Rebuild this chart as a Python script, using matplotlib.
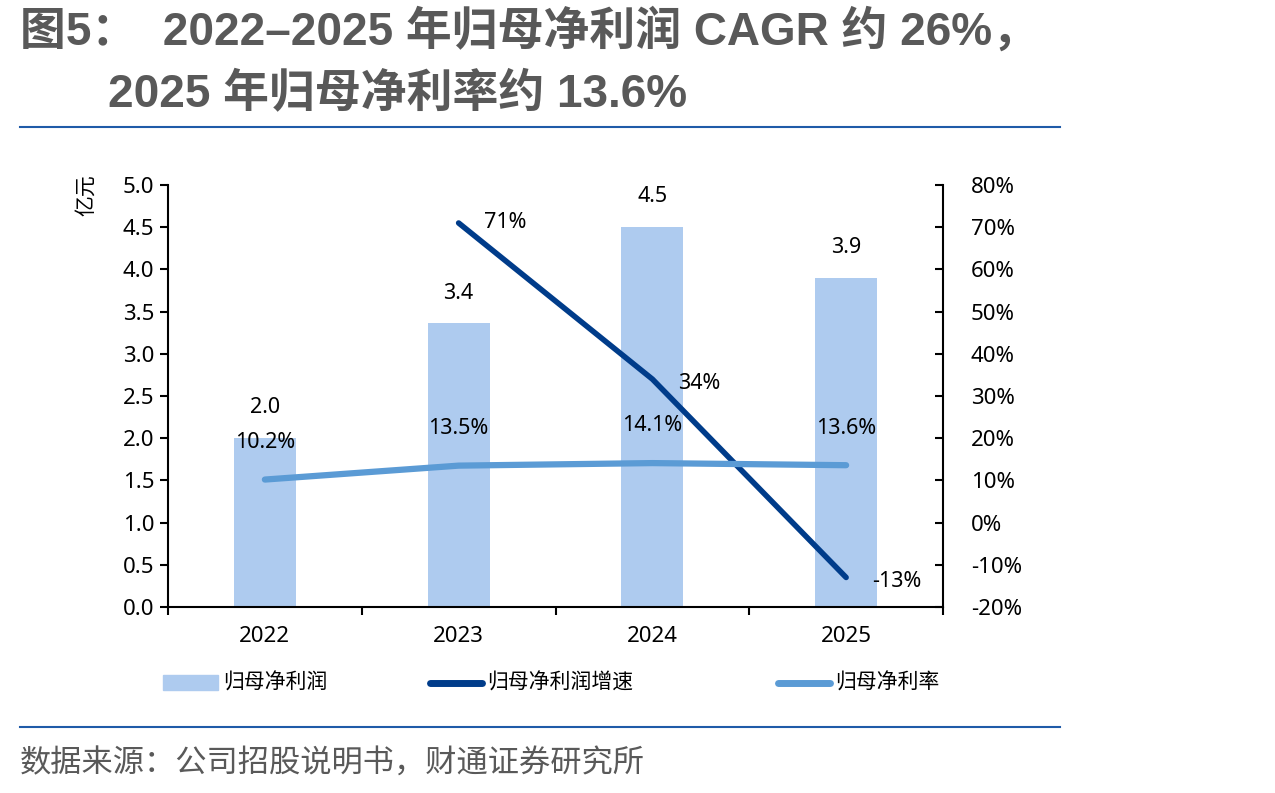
import numpy as np
import matplotlib
matplotlib.use('Agg')
import matplotlib.pyplot as plt
from matplotlib.ticker import MultipleLocator, FuncFormatter

plt.rcParams['font.family'] = ['Noto Sans', 'Noto Sans CJK SC', 'DejaVu Sans']
plt.rcParams['axes.unicode_minus'] = False

# Data
years = ['2022', '2023', '2024', '2025']
profit = [2.0, 3.36, 4.5, 3.9]              # 归母净利润（亿元）
profit_labels = ['2.0', '3.4', '4.5', '3.9']
growth_years = [1, 2, 3]
growth = [71, 34, -13]                       # 归母净利润增速 %
margin = [10.2, 13.5, 14.1, 13.6]            # 归母净利率 %

bar_color = '#AECBEF'
growth_color = '#003C8A'
margin_color = '#5B9BD5'
W, H = 1275, 793

fig = plt.figure(figsize=(12.75, 7.93), dpi=100)
ax = fig.add_axes([168 / W, 1 - 607 / H, (943 - 168) / W, (607 - 185) / H])
ax2 = ax.twinx()

x = np.arange(len(years))
ax.bar(x, profit, width=0.32, color=bar_color, zorder=1)
for xi, v, lab in zip(x, profit, profit_labels):
    ax.text(xi, v + 0.36, lab, ha='center', va='center', fontsize=15.5)

ax.set_xlim(-0.5, 3.5)
ax.set_ylim(0, 5)
ax.yaxis.set_major_locator(MultipleLocator(0.5))
ax.yaxis.set_major_formatter(FuncFormatter(lambda v, p: f'{v:.1f}'))
ax.set_xticks(x)
ax.set_xticklabels(years)
ax.set_xticks(np.arange(-0.5, 3.6, 1), minor=True)
ax.tick_params(axis='x', which='major', length=0, pad=14, labelsize=16)
ax.tick_params(axis='x', which='minor', length=6, width=1.5, direction='out')
ax.tick_params(axis='y', length=6, width=1.5, direction='out', labelsize=16, pad=4)
ax.spines['top'].set_visible(False)
ax.spines['right'].set_visible(False)
ax.spines['left'].set_linewidth(1.5)
ax.spines['bottom'].set_linewidth(1.5)
fig.text(86 / W, 1 - 195 / H, '亿元', fontsize=15, rotation=90, ha='center', va='center',
         family=['Noto Sans CJK SC'])

ax2.plot(growth_years, growth, color=growth_color, lw=4, solid_capstyle='round', zorder=3)
ax2.plot(x, margin, color=margin_color, lw=4.5, solid_capstyle='round', zorder=3)
ax2.set_ylim(-20, 80)
ax2.yaxis.set_major_locator(MultipleLocator(10))
ax2.yaxis.set_major_formatter(FuncFormatter(lambda v, p: f'{v:.0f}%'))
ax2.tick_params(axis='y', length=6, width=1.5, direction='in', labelsize=16, pad=20)
ax2.spines['top'].set_visible(False)
ax2.spines['left'].set_visible(False)
ax2.spines['bottom'].set_visible(False)
ax2.spines['right'].set_linewidth(1.5)

growth_offsets = [(0.24, 0), (0.24, -1), (0.26, -1)]
for xi, v, (dx, dy) in zip(growth_years, growth, growth_offsets):
    ax2.text(xi + dx, v + dy, f'{v}%', ha='center', va='center', fontsize=15.5)
for xi, v in zip(x, margin):
    ax2.text(xi, v + 8.8, f'{v:.1f}%', ha='center', va='center', fontsize=15.5)

# Legend (drawn manually in figure coords)
fig.patches.append(plt.Rectangle((163 / W, 1 - 690 / H), 55 / W, 15 / H,
                                 transform=fig.transFigure, color=bar_color))
fig.text(223 / W, 1 - 683 / H, '归母净利润', fontsize=15, va='center')
fig.lines.append(plt.Line2D([430 / W, 482 / W], [1 - 683 / H] * 2, transform=fig.transFigure,
                            color=growth_color, lw=5, solid_capstyle='round'))
fig.text(487 / W, 1 - 683 / H, '归母净利润增速', fontsize=15, va='center')
fig.lines.append(plt.Line2D([778 / W, 830 / W], [1 - 683 / H] * 2, transform=fig.transFigure,
                            color=margin_color, lw=5, solid_capstyle='round'))
fig.text(835 / W, 1 - 683 / H, '归母净利率', fontsize=15, va='center')

# Title and source
title_color = '#595959'
title_font = ['Liberation Sans', 'Noto Sans CJK SC']
fig.text(20 / W, 1 - 32 / H, '图5：  2022–2025 年归母净利润 CAGR 约 26%，', fontsize=33,
         fontweight='bold', color=title_color, va='center', family=title_font)
fig.text(108 / W, 1 - 95 / H, '2025 年归母净利率约 13.6%', fontsize=33,
         fontweight='bold', color=title_color, va='center', family=title_font)
fig.lines.append(plt.Line2D([20 / W, 1060 / W], [1 - 127 / H] * 2, transform=fig.transFigure,
                            color='#1F5BA8', lw=1.5))
fig.lines.append(plt.Line2D([20 / W, 1060 / W], [1 - 727 / H] * 2, transform=fig.transFigure,
                            color='#1F5BA8', lw=1.5))
fig.text(20 / W, 1 - 764 / H, '数据来源：公司招股说明书，财通证券研究所', fontsize=22.5,
         color=title_color, va='center', family=['Noto Sans CJK SC'])

fig.savefig('out.png', dpi=100)
